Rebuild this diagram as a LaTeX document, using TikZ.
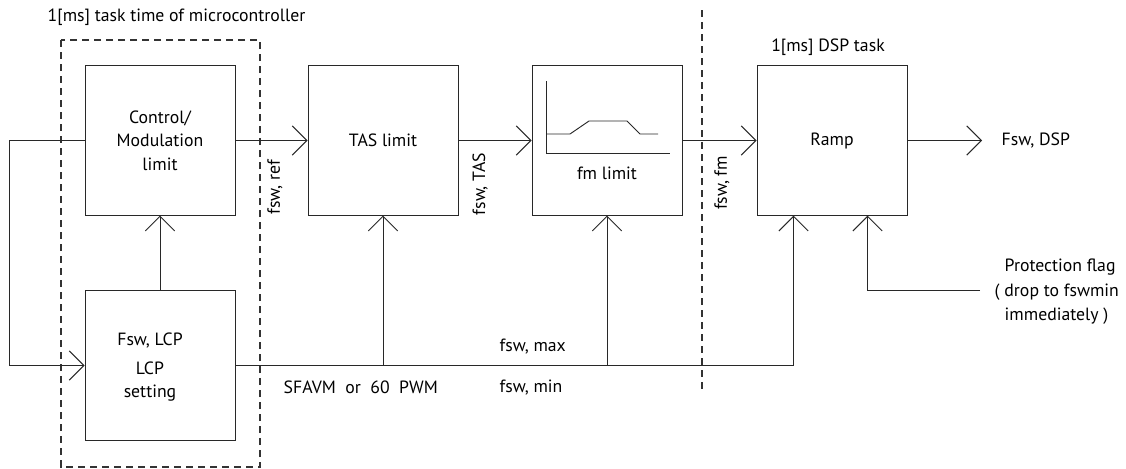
\documentclass[tikz,border=0pt]{standalone}
\usepackage{fontspec}
\setmainfont{PT Sans}
\usepackage{tikz}
\usetikzlibrary{arrows.meta, positioning, calc}
\definecolor{lineclr}{RGB}{40, 40, 40}

\begin{document}
\begin{tikzpicture}[x=0.75pt, y=-0.75pt,
    font=\fontsize{13.3}{17.5}\selectfont,
    blk/.style={rectangle, draw=lineclr, line width=0.7pt, minimum width=112.5pt, minimum height=112pt, align=center, inner sep=0pt},
    arr/.style={-{Straight Barb[length=11pt, width=22pt, line width=0.7pt]}, draw=lineclr, line width=0.7pt},
    wire/.style={draw=lineclr, line width=0.7pt},
    taskline/.style={draw=black!80, line width=0.8pt, dash pattern=on 5.5pt off 3.5pt}]
    \useasboundingbox (0,0) rectangle (1126,468);
        % task borders
        \draw[taskline] (61,40) rectangle (260,467);
        \draw[taskline] (702,10) -- (702,393);
        \node[anchor=west] (mcutitle) at (43,17) {1[ms] task time of microcontroller};
        \node (dsptitle) at (828,47) {1[ms] DSP task};
        % blocks
        \node[blk] (ctrl) at (160,140.5) {Control/\\Modulation\\limit};
        \node[blk] (lcp) at (160,365.5) {};
        \node[align=center] (lcptxt) at (150,367) {Fsw, LCP\\[4pt]LCP\\setting};
        \node[blk] (tas) at (383,140.5) {TAS limit};
        \node[blk] (fm) at (607,140.5) {};
        \node (fmtxt) at (607,173) {fm limit};
        \node[blk] (ramp) at (832,140.5) {Ramp};
        % fm curve
        \draw[wire] (546,81) -- (546,153) -- (670,153);
        \draw[wire] (546,134) -- (570,134) -- (589,121) -- (627,121) -- (640,134) -- (658,134);
        % ramp inputs
        \coordinate (rin1) at ($(ramp.south west)+(37,0)$);
        \coordinate (rin2) at ($(ramp.south west)+(111,0)$);
        \coordinate (out) at (982,140.5);
        \coordinate (pf) at (980,290);
        % connectors
        \draw[arr] (ctrl.east) -- (tas.west);
        \draw[arr] (tas.east) -- (fm.west);
        \draw[arr] (fm.east) -- (ramp.west);
        \draw[arr] (ramp.east) -- (out);
        \draw[arr] (ctrl.west) -- ++(-75,0) |- (lcp.west);
        \draw[arr] (lcp.north) -- (ctrl.south);
        \draw[arr] (lcp.east) -| (rin1);
        \draw[arr] (tas.south |- lcp.east) -- (tas.south);
        \draw[arr] (fm.south |- lcp.east) -- (fm.south);
        \draw[arr] (pf) -| (rin2);
        % signal labels
        \node[rotate=90] (fswref) at (275,187) {fsw, ref};
        \node[rotate=90] (fswtas) at (480,184) {fsw, TAS};
        \node[rotate=90] (fswfm) at (722,183) {fsw, fm};
        \node[anchor=west] (fswdsp) at (997,141) {Fsw, DSP};
        \node[anchor=west] (mode) at (279,387) {SFAVM\ \ or\ \ 60\ \ PWM};
        \node[anchor=west] (fswmax) at (495,347) {fsw, max};
        \node[anchor=west] (fswmin) at (495,388) {fsw, min};
        \node[anchor=west] (prot1) at (1000,267) {Protection flag};
        \node[anchor=west] (prot2) at (990,292) {( drop to fswmin};
        \node[anchor=west] (prot3) at (1000,316) {immediately )};
    \end{tikzpicture}
\end{document}
